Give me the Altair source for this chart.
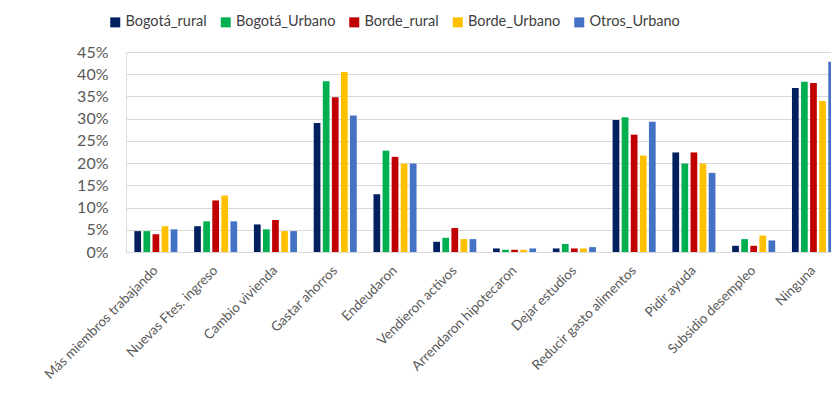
import altair as alt
import pandas as pd

categories = [
    "Más miembros trabajando", "Nuevas Ftes. ingreso", "Cambio vivienda",
    "Gastar ahorros", "Endeudaron", "Vendieron activos",
    "Arrendaron hipotecaron", "Dejar estudios", "Reducir gasto alimentos",
    "Pidir ayuda", "Subsidio desempleo", "Ninguna",
]
series = ["Bogotá_rural", "Bogotá_Urbano", "Borde_rural", "Borde_Urbano", "Otros_Urbano"]
colors = ["#002060", "#00B050", "#C00000", "#FFC000", "#4472C4"]

bogota_rural = [4.7, 5.8, 6.2, 29.0, 13.0, 2.3, 0.8, 0.8, 29.7, 22.4, 1.4, 36.9]
bogota_urbano = [4.7, 6.9, 5.1, 38.4, 22.8, 3.2, 0.5, 1.8, 30.3, 19.9, 2.9, 38.3]
borde_rural = [4.0, 11.6, 7.2, 34.8, 21.4, 5.4, 0.5, 0.8, 26.4, 22.4, 1.4, 38.0]
borde_urbano = [5.8, 12.7, 4.7, 40.5, 19.9, 2.9, 0.5, 0.8, 21.7, 19.9, 3.7, 34.0]
otros_urbano = [5.1, 6.9, 4.7, 30.7, 19.9, 2.9, 0.8, 1.1, 29.3, 17.8, 2.6, 42.8]

values = [bogota_rural, bogota_urbano, borde_rural, borde_urbano, otros_urbano]
rows = []
for s, vals in zip(series, values):
    for c, v in zip(categories, vals):
        rows.append({"cat": c, "serie": s, "valor": v})
df = pd.DataFrame(rows)

FONT = "Lato"
LEFT, TOP = 126, 52
W, H = 705, 200
STEP = 59.78

chart = alt.Chart(df).mark_bar().encode(
    x=alt.X(
        "cat:N", sort=categories, title=None,
        scale=alt.Scale(range=[0, STEP * 12], paddingInner=0.28, paddingOuter=0.14),
        axis=alt.Axis(
            labelAngle=-45, labelAlign="right", labelBaseline="middle",
            labelPadding=16, ticks=False, domainColor="#d9d9d9",
            labelFont=FONT, labelFontSize=13.5, labelColor="#595959",
            labelOverlap=False, labelLimit=300,
        ),
    ),
    xOffset=alt.XOffset("serie:N", sort=series, scale=alt.Scale(paddingInner=0.26)),
    y=alt.Y(
        "valor:Q", title=None,
        scale=alt.Scale(domain=[0, 45], nice=False),
        axis=alt.Axis(
            values=[0, 5, 10, 15, 20, 25, 30, 35, 40, 45],
            labelExpr="datum.value + '%'", domain=False, ticks=False,
            labelPadding=18, gridColor="#d9d9d9", gridWidth=1,
            labelFont=FONT, labelFontSize=16, labelColor="#595959",
        ),
    ),
    color=alt.Color(
        "serie:N", sort=series,
        scale=alt.Scale(domain=series, range=colors),
        legend=alt.Legend(
            title=None, orient="none", direction="horizontal", columns=5,
            legendX=-18, legendY=-37, symbolType="square", symbolSize=100,
            symbolStrokeWidth=0, labelFont=FONT, labelFontSize=14.5,
            labelColor="#404040", columnPadding=11.5, labelOffset=3,
        ),
    ),
).properties(
    width=W, height=H,
    autosize=alt.AutoSizeParams(type="none"),
    padding={"left": LEFT, "top": TOP, "right": 0, "bottom": 410 - TOP - H},
).configure_view(stroke=None).configure(background="white")

chart.save("out.html", embed_options={"renderer": "svg", "actions": False})
